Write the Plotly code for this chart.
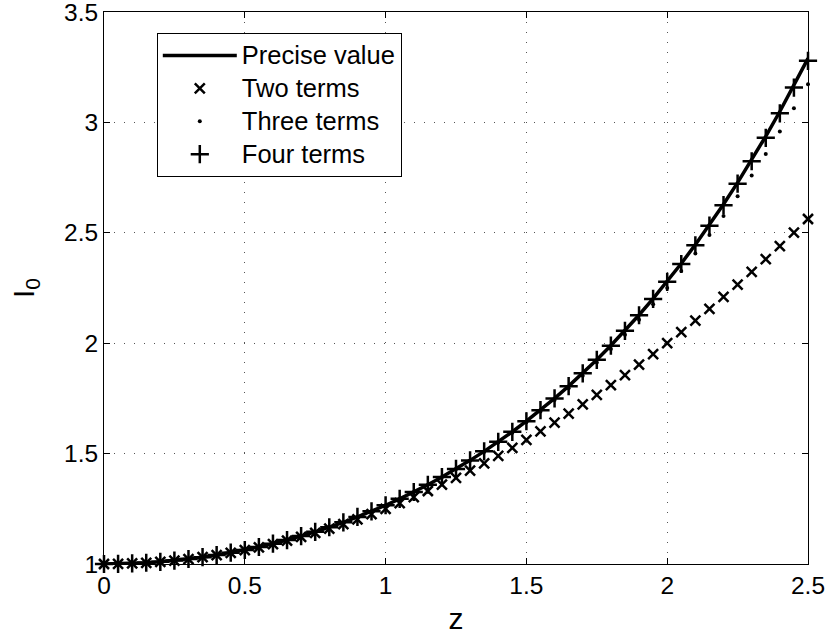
import plotly.graph_objects as go

z = [0.00, 0.05, 0.10, 0.15, 0.20, 0.25, 0.30, 0.35, 0.40, 0.45,
     0.50, 0.55, 0.60, 0.65, 0.70, 0.75, 0.80, 0.85, 0.90, 0.95,
     1.00, 1.05, 1.10, 1.15, 1.20, 1.25, 1.30, 1.35, 1.40, 1.45,
     1.50, 1.55, 1.60, 1.65, 1.70, 1.75, 1.80, 1.85, 1.90, 1.95,
     2.00, 2.05, 2.10, 2.15, 2.20, 2.25, 2.30, 2.35, 2.40, 2.45, 2.50]

precise = [1.0000, 1.0006, 1.0025, 1.0056, 1.0100, 1.0157, 1.0226, 1.0309, 1.0404, 1.0513,
           1.0635, 1.0771, 1.0920, 1.1084, 1.1263, 1.1456, 1.1665, 1.1889, 1.2130, 1.2387,
           1.2661, 1.2952, 1.3262, 1.3590, 1.3937, 1.4305, 1.4693, 1.5102, 1.5534, 1.5989,
           1.6467, 1.6971, 1.7500, 1.8056, 1.8640, 1.9253, 1.9896, 2.0570, 2.1277, 2.2019,
           2.2796, 2.3610, 2.4463, 2.5356, 2.6291, 2.7271, 2.8296, 2.9369, 3.0493, 3.1668, 3.2898]

two_terms = [1.0000, 1.0006, 1.0025, 1.0056, 1.0100, 1.0156, 1.0225, 1.0306, 1.0400, 1.0506,
             1.0625, 1.0756, 1.0900, 1.1056, 1.1225, 1.1406, 1.1600, 1.1806, 1.2025, 1.2256,
             1.2500, 1.2756, 1.3025, 1.3306, 1.3600, 1.3906, 1.4225, 1.4556, 1.4900, 1.5256,
             1.5625, 1.6006, 1.6400, 1.6806, 1.7225, 1.7656, 1.8100, 1.8556, 1.9025, 1.9506,
             2.0000, 2.0506, 2.1025, 2.1556, 2.2100, 2.2656, 2.3225, 2.3806, 2.4400, 2.5006, 2.5625]

three_terms = [1.0000, 1.0006, 1.0025, 1.0056, 1.0100, 1.0157, 1.0226, 1.0309, 1.0404, 1.0513,
               1.0635, 1.0771, 1.0920, 1.1084, 1.1263, 1.1456, 1.1664, 1.1888, 1.2128, 1.2384,
               1.2656, 1.2946, 1.3254, 1.3580, 1.3924, 1.4288, 1.4671, 1.5075, 1.5500, 1.5947,
               1.6416, 1.6908, 1.7424, 1.7964, 1.8530, 1.9122, 1.9740, 2.0386, 2.1061, 2.1765,
               2.2500, 2.3266, 2.4064, 2.4895, 2.5760, 2.6661, 2.7598, 2.8572, 2.9584, 3.0636, 3.1729]

four_terms = [1.0000, 1.0006, 1.0025, 1.0056, 1.0100, 1.0157, 1.0226, 1.0309, 1.0404, 1.0513,
              1.0635, 1.0771, 1.0920, 1.1084, 1.1263, 1.1456, 1.1665, 1.1889, 1.2130, 1.2387,
              1.2661, 1.2952, 1.3261, 1.3590, 1.3937, 1.4304, 1.4692, 1.5102, 1.5533, 1.5987,
              1.6465, 1.6968, 1.7497, 1.8052, 1.8635, 1.9246, 1.9888, 2.0560, 2.1265, 2.2004,
              2.2778, 2.3588, 2.4436, 2.5324, 2.6252, 2.7224, 2.8240, 2.9303, 3.0413, 3.1575, 3.2788]

series_names = ["Precise value", "Two terms", "Three terms", "Four terms"]

x_ticks = [0, 0.5, 1, 1.5, 2, 2.5]
x_tick_labels = ["0", "0.5", "1", "1.5", "2", "2.5"]
y_ticks = [1, 1.5, 2, 2.5, 3, 3.5]
y_tick_labels = ["1", "1.5", "2", "2.5", "3", "3.5"]

FONT = "Liberation Sans, Arial, Helvetica, sans-serif"


def legend_label(text):
    return '<span style="font-size:25.5px">' + text + "</span>"


fig = go.Figure()
fig.add_trace(go.Scatter(x=z, y=precise, mode="lines", name=legend_label(series_names[0]),
                         line=dict(color="black", width=3.5)))
fig.add_trace(go.Scatter(x=z, y=two_terms, mode="markers", name=legend_label(series_names[1]),
                         cliponaxis=False,
                         marker=dict(symbol="x-thin", size=10, color="black",
                                     line=dict(color="black", width=2.5))))
fig.add_trace(go.Scatter(x=z, y=three_terms, mode="markers", name=legend_label(series_names[2]),
                         cliponaxis=False,
                         marker=dict(symbol="circle", size=4, color="black",
                                     line=dict(width=0))))
fig.add_trace(go.Scatter(x=z, y=four_terms, mode="markers", name=legend_label(series_names[3]),
                         cliponaxis=False,
                         marker=dict(symbol="cross-thin", size=13, color="black",
                                     line=dict(color="black", width=2.5))))

axis_common = dict(
    showline=True, linecolor="black", linewidth=1, mirror="ticks",
    ticks="inside", ticklen=6, tickcolor="black", tickwidth=1,
    showgrid=True, gridcolor="#555555", gridwidth=1, griddash="1px,9px",
    zeroline=False, ticklabeloverflow="allow",
    tickfont=dict(family=FONT, size=24.5, color="black"),
)

fig.update_xaxes(range=[0, 2.5], tickvals=x_ticks, ticktext=x_tick_labels,
                 title=dict(text="z", font=dict(family=FONT, size=30, color="black"), standoff=9),
                 **axis_common)
fig.update_yaxes(range=[1, 3.5], tickvals=y_ticks, ticktext=y_tick_labels,
                 title=dict(text="I<sub>0</sub>", font=dict(family=FONT, size=30, color="black"), standoff=20),
                 **axis_common)

fig.update_layout(
    width=829, height=637,
    margin=dict(l=104, r=21, t=12, b=73, autoexpand=False),
    paper_bgcolor="white", plot_bgcolor="white",
    font=dict(family=FONT, color="black"),
    showlegend=True,
    legend=dict(x=0.075, y=0.962, xanchor="left", yanchor="top",
                bgcolor="white", bordercolor="black", borderwidth=1,
                font=dict(family=FONT, size=23, color="black"),
                itemwidth=74, tracegroupgap=0),
)

fig.write_html("out.html", config={"displayModeBar": False},
               post_script="document.body.style.margin='0px';document.body.style.overflow='hidden';")
